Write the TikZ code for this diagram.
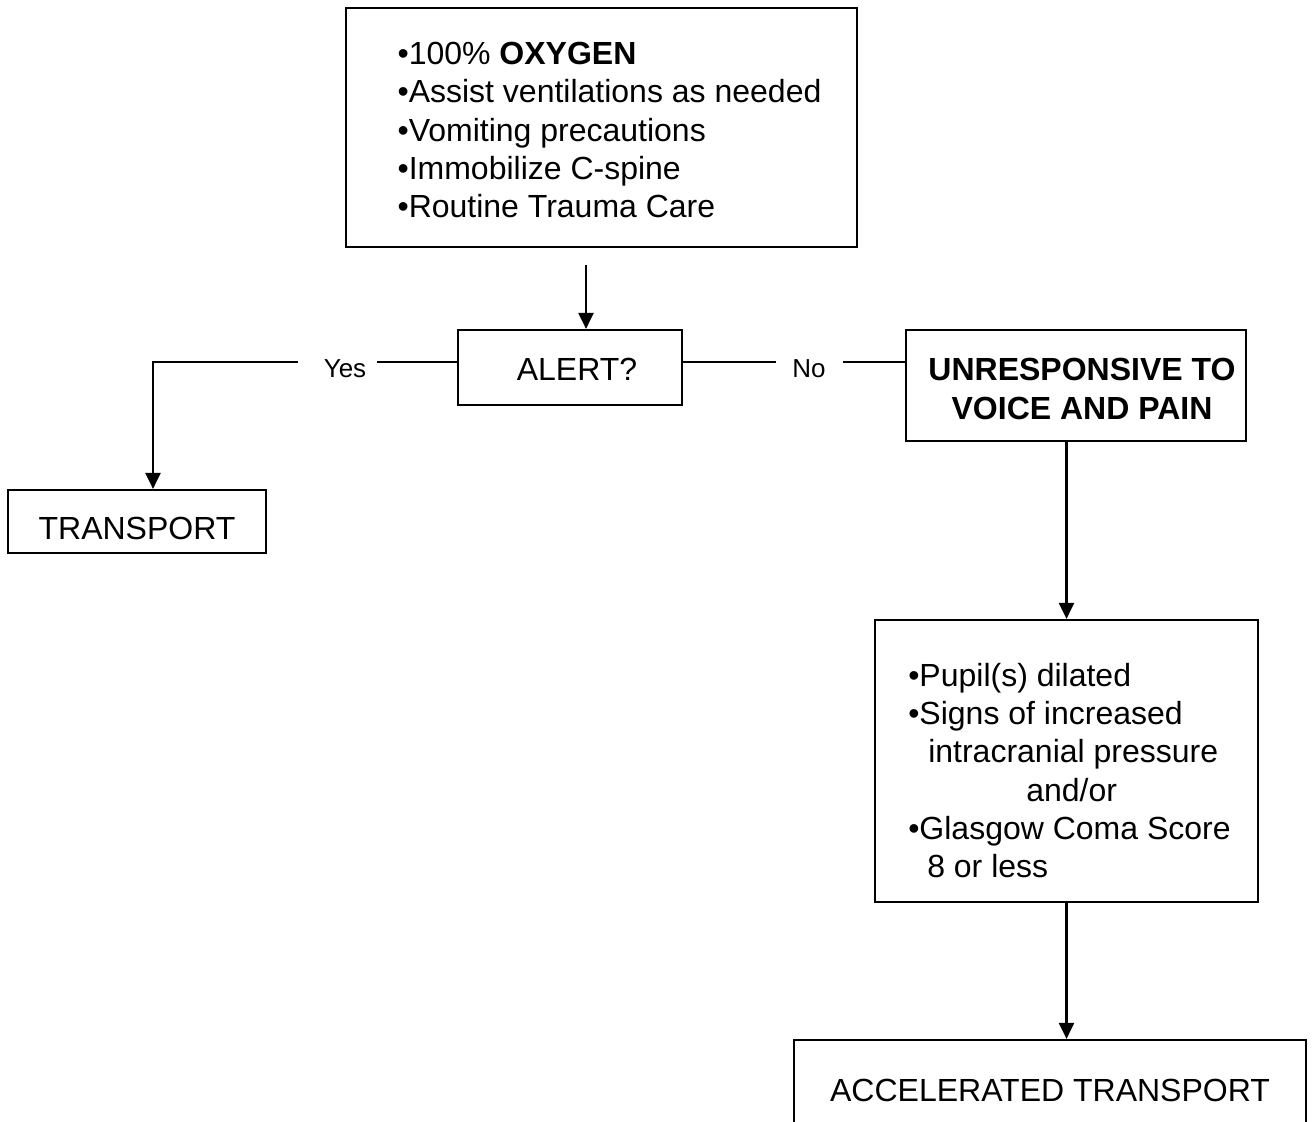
\documentclass[tikz,border=0pt]{standalone}
\usepackage{fontspec}
\setmainfont{Liberation Sans}
\usetikzlibrary{arrows.meta}
\begin{document}
\begin{tikzpicture}[x=1pt,y=-1pt,
  every node/.style={font=\fontsize{32pt}{38.3pt}\selectfont},
  box/.style={draw,line width=2.2pt,rectangle,inner sep=0pt},
  txt/.style={inner sep=0pt},
  lbl/.style={font=\fontsize{26pt}{30pt}\selectfont,inner sep=0pt},
  wire/.style={line width=2.2pt},
  flow/.style={line width=2.2pt,-{Triangle[length=16pt,width=15pt]}}]
\clip (0,0) rectangle (1313,1121);
\fill[white] (0,0) rectangle (1313,1121);

% boxes
\node[box,minimum width=511pt,minimum height=239pt] (care) at (601.5,127.5) {};
\node[box,minimum width=224pt,minimum height=75pt] (alert) at (570,367.5) {};
\node[box,minimum width=258pt,minimum height=63pt] (transport) at (137,521.5) {};
\node[box,minimum width=340pt,minimum height=111pt] (unresp) at (1076,385.5) {};
\node[box,minimum width=383pt,minimum height=282pt] (signs) at (1066.5,761) {};
\node[box,minimum width=512pt,minimum height=100pt] (accel) at (1050,1090) {};

% box texts
\node[txt,align=left] (careT) at (609.5,130)
  {•100\% \textbf{OXYGEN}\\•Assist ventilations as needed\\•Vomiting precautions\\•Immobilize C-spine\\•Routine Trauma Care};
\node[txt] (alertT) at (577,369.5) {ALERT?};
\node[txt] (transportT) at (137,528.5) {TRANSPORT};
\node[txt,align=center,font=\fontsize{32pt}{39pt}\selectfont\bfseries] (unrespT) at (1082,388.5)
  {UNRESPONSIVE TO\\VOICE AND PAIN};
\node[txt,align=left] (signsT) at (1069.5,770.5)
  {•Pupil(s) dilated\\•Signs of increased\\\hspace*{20pt}intracranial pressure\\\hspace*{118pt}and/or\\•Glasgow Coma Score\\\hspace*{19pt}8 or less};
\node[txt] (accelT) at (1050,1090) {ACCELERATED TRANSPORT};

% branch labels
\node[lbl] (yes) at (345,368.5) {Yes};
\node[lbl] (no) at (809,368.5) {No};

% line ends beside the labels
\coordinate (yesR) at (377,362);
\coordinate (yesL) at (298,362);
\coordinate (yesTurn) at (153,362);
\coordinate (noL) at (776,362);
\coordinate (noR) at (843,362);
\coordinate (start) at (586,265);

% connectors
\draw[flow] (start) -- (start |- alert.north);
\draw[wire] (alert.west |- yesR) -- (yesR);
\draw[flow] (yesL) -- (yesTurn) -- (yesTurn |- transport.north);
\draw[wire] (alert.east |- noL) -- (noL);
\draw[wire] (noR) -- (noR -| unresp.west);
\draw[flow] (unresp.south -| signs.north) -- (signs.north);
\draw[flow] (signs.south) -- (signs.south |- accel.north);
\end{tikzpicture}
\end{document}
